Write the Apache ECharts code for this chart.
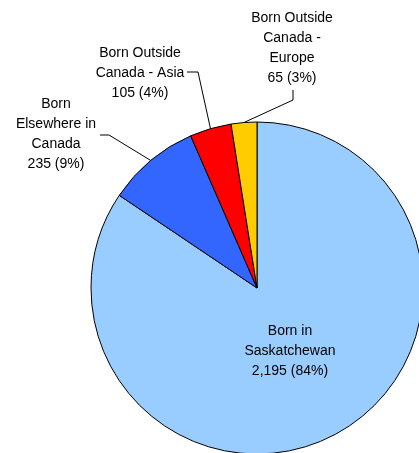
<!DOCTYPE html>
<html>
<head>
<meta charset="utf-8">
<script src="https://cdn.jsdelivr.net/npm/echarts@6/dist/echarts.min.js"></script>
<style>html,body{margin:0;padding:0;background:#fff;}#c{width:419px;height:453px;}</style>
</head>
<body>
<div id="c"></div>
<script>
const categories = ['Born in\nSaskatchewan', 'Born\nElsewhere in\nCanada', 'Born Outside\nCanada - Asia', 'Born Outside\nCanada -\nEurope'];
const values = [2195, 235, 105, 65];
const colors = ['#99CCFF', '#3366FF', '#FF0000', '#FFCC00'];

const total = values.reduce((a, b) => a + b, 0);
const fmt = v => v.toLocaleString('en-US');

// label anchor positions (layout) and leader elbows
const labelPos = [
  { x: 290, y: 351 },
  { x: 56, y: 134 },
  { x: 140, y: 73 },
  { x: 292, y: 48 }
];
const elbows = [
  null,
  [[109, 135], [100, 135]],
  [[198, 72], [187, 72]],
  [[293, 100], [293, 90]]
];

const data = categories.map((name, i) => ({
  name: name,
  value: values[i],
  itemStyle: { color: colors[i] },
  label: { position: i === 0 ? 'inside' : 'outside' },
  labelLine: { show: i !== 0 }
}));

const chart = echarts.init(document.getElementById('c'), null, { renderer: 'canvas' });
chart.setOption({
  animation: false,
  series: [{
    type: 'pie',
    center: [257, 288],
    radius: 166,
    startAngle: 90,
    clockwise: true,
    avoidLabelOverlap: false,
    data: data,
    itemStyle: { borderColor: '#000', borderWidth: 1 },
    emphasis: { disabled: true },
    label: {
      show: true,
      fontFamily: 'Liberation Sans, Arial, sans-serif',
      fontSize: 14,
      lineHeight: 20,
      color: '#000',
      align: 'center',
      formatter: p => p.name + '\n' + fmt(p.value) + ' (' + Math.round(p.value / total * 100) + '%)'
    },
    labelLine: {
      show: true,
      length: 10,
      length2: 10,
      lineStyle: { color: '#000', width: 1 }
    },
    labelLayout: function (params) {
      const i = params.dataIndex;
      const out = { x: labelPos[i].x, y: labelPos[i].y, align: 'center', verticalAlign: 'middle' };
      if (elbows[i] && params.labelLinePoints) {
        out.labelLinePoints = [params.labelLinePoints[0], elbows[i][0], elbows[i][1]];
      }
      return out;
    }
  }]
});
</script>
</body>
</html>
